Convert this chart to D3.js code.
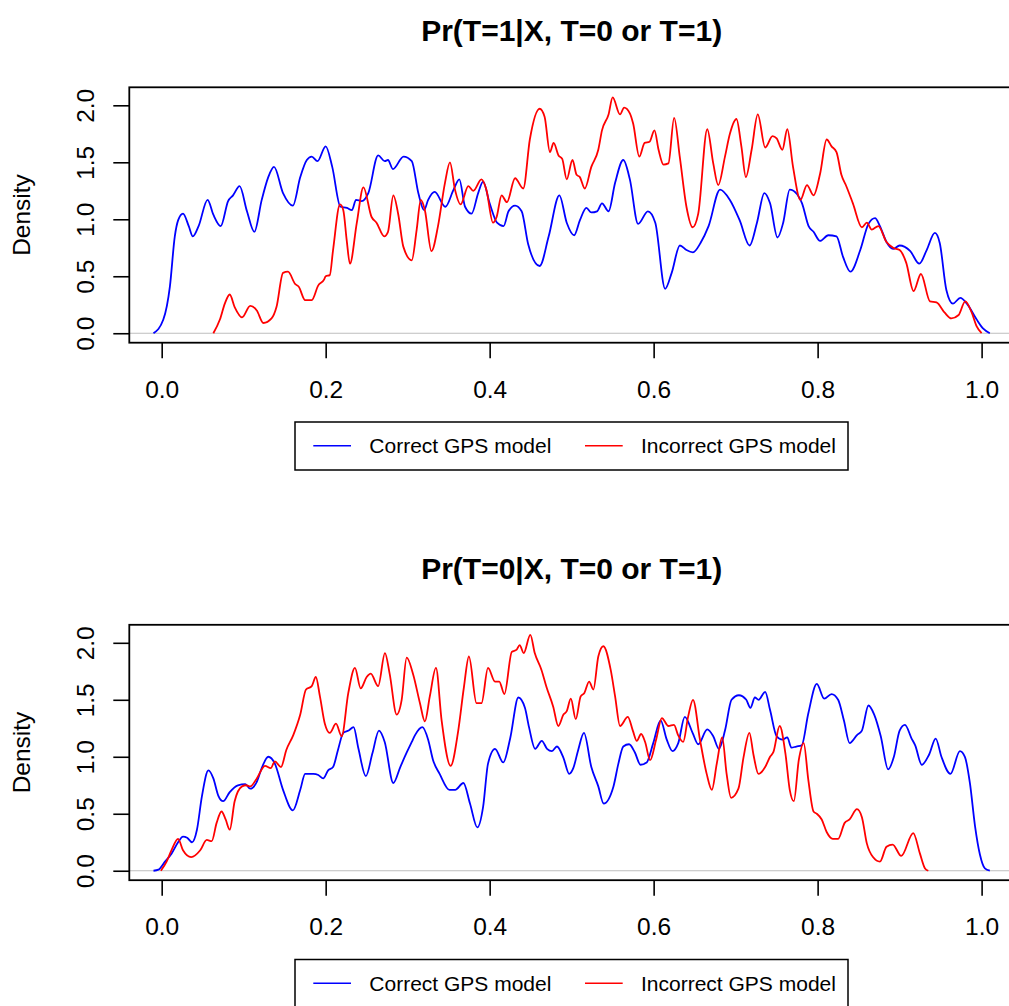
<!DOCTYPE html>
<html>
<head>
<meta charset="utf-8">
<script src="https://cdn.jsdelivr.net/npm/d3@7"></script>
<style>
  body { margin: 0; background: #fff; }
  svg { display: block; background: #fff; font-family: "Liberation Sans", Arial, sans-serif; }
</style>
</head>
<body>
<svg width="1009" height="1006"></svg>
<script>

// ticks, names, colours
let xTicks = [0, 0.2, 0.4, 0.6, 0.8, 1.0];
let yTicks = [0, 0.5, 1.0, 1.5, 2.0];
let seriesNames = ["Correct GPS model", "Incorrect GPS model"];
let seriesColors = ["#0000ff", "#ff0000"];
let panelTitles = ["Pr(T=1|X, T=0 or T=1)", "Pr(T=0|X, T=0 or T=1)"];

// density curves, [x, density]
let t1Correct = [[-0.010,0],[0.002,0.12],[0.010,0.41],[0.016,0.85],[0.020,0.99],[0.026,1.05],[0.033,0.94],[0.038,0.85],[0.045,0.94],[0.056,1.17],[0.063,1.04],[0.072,0.94],[0.081,1.16],[0.087,1.21],[0.095,1.29],[0.104,1.07],[0.113,0.89],[0.122,1.17],[0.130,1.37],[0.137,1.46],[0.148,1.23],[0.160,1.12],[0.169,1.37],[0.177,1.52],[0.183,1.55],[0.190,1.51],[0.200,1.64],[0.208,1.46],[0.218,1.11],[0.226,1.10],[0.232,1.08],[0.237,1.17],[0.244,1.16],[0.252,1.23],[0.264,1.56],[0.272,1.51],[0.276,1.52],[0.282,1.44],[0.295,1.55],[0.305,1.51],[0.313,1.23],[0.320,1.08],[0.325,1.17],[0.333,1.24],[0.346,1.11],[0.356,1.26],[0.363,1.35],[0.370,1.11],[0.378,1.05],[0.386,1.23],[0.392,1.33],[0.400,1.14],[0.409,0.97],[0.417,0.94],[0.423,1.07],[0.431,1.12],[0.439,1.07],[0.447,0.78],[0.461,0.59],[0.472,0.85],[0.485,1.21],[0.494,0.97],[0.503,0.86],[0.510,0.99],[0.518,1.10],[0.524,1.06],[0.531,1.07],[0.537,1.14],[0.545,1.07],[0.553,1.32],[0.563,1.52],[0.571,1.35],[0.581,0.96],[0.593,1.07],[0.602,0.97],[0.614,0.39],[0.622,0.53],[0.632,0.77],[0.640,0.73],[0.648,0.71],[0.657,0.79],[0.667,0.94],[0.681,1.26],[0.693,1.17],[0.705,0.99],[0.717,0.77],[0.726,0.97],[0.735,1.23],[0.742,1.14],[0.751,0.84],[0.758,0.97],[0.766,1.26],[0.775,1.22],[0.781,1.14],[0.789,0.94],[0.795,0.89],[0.803,0.81],[0.813,0.86],[0.823,0.85],[0.831,0.67],[0.840,0.54],[0.852,0.73],[0.862,0.96],[0.870,1.01],[0.876,0.94],[0.884,0.80],[0.892,0.74],[0.900,0.77],[0.913,0.72],[0.924,0.61],[0.933,0.73],[0.943,0.88],[0.949,0.79],[0.957,0.38],[0.965,0.26],[0.974,0.31],[0.982,0.26],[0.994,0.12],[1.002,0.04],[1.010,0]];

let t1Incorrect = [[0.063,0],[0.071,0.12],[0.077,0.26],[0.083,0.34],[0.089,0.23],[0.098,0.14],[0.108,0.24],[0.116,0.20],[0.124,0.09],[0.134,0.13],[0.140,0.23],[0.148,0.53],[0.154,0.54],[0.163,0.43],[0.167,0.41],[0.175,0.29],[0.183,0.29],[0.191,0.42],[0.198,0.47],[0.200,0.50],[0.205,0.51],[0.209,0.73],[0.2175,1.13],[0.2215,1.08],[0.2256,0.82],[0.2296,0.61],[0.238,0.97],[0.246,1.28],[0.256,1.02],[0.262,0.97],[0.2715,0.85],[0.276,0.89],[0.2825,1.21],[0.2886,1.04],[0.2947,0.76],[0.305,0.64],[0.311,0.91],[0.316,1.17],[0.321,1.08],[0.329,0.72],[0.337,0.94],[0.3455,1.32],[0.3516,1.50],[0.3577,1.26],[0.3646,1.13],[0.374,1.29],[0.380,1.25],[0.390,1.35],[0.396,1.26],[0.404,0.97],[0.4085,1.02],[0.4146,1.21],[0.421,1.15],[0.431,1.36],[0.441,1.27],[0.449,1.70],[0.461,1.97],[0.467,1.90],[0.4735,1.59],[0.478,1.67],[0.484,1.56],[0.4885,1.53],[0.494,1.35],[0.501,1.52],[0.506,1.39],[0.510,1.37],[0.516,1.27],[0.524,1.46],[0.5325,1.61],[0.537,1.78],[0.545,1.92],[0.550,2.07],[0.559,1.92],[0.564,1.98],[0.571,1.93],[0.575,1.84],[0.5825,1.55],[0.589,1.67],[0.595,1.68],[0.601,1.78],[0.606,1.61],[0.612,1.48],[0.618,1.49],[0.625,1.89],[0.632,1.54],[0.640,1.11],[0.6475,0.93],[0.6544,1.05],[0.6654,1.79],[0.6727,1.49],[0.6788,1.30],[0.687,1.55],[0.693,1.75],[0.701,1.88],[0.707,1.64],[0.7125,1.37],[0.7195,1.61],[0.727,1.92],[0.736,1.63],[0.745,1.73],[0.750,1.71],[0.757,1.61],[0.763,1.79],[0.770,1.46],[0.779,1.17],[0.787,1.30],[0.795,1.21],[0.803,1.40],[0.811,1.70],[0.817,1.64],[0.823,1.59],[0.829,1.39],[0.835,1.29],[0.843,1.14],[0.854,0.93],[0.860,0.97],[0.866,0.91],[0.874,0.94],[0.884,0.80],[0.892,0.75],[0.900,0.73],[0.908,0.62],[0.917,0.37],[0.926,0.52],[0.937,0.28],[0.945,0.27],[0.955,0.18],[0.963,0.13],[0.972,0.16],[0.980,0.28],[0.988,0.18],[0.994,0.06],[1.000,0]];

let t0Correct = [[-0.010,0],[-0.004,0.01],[0.004,0.08],[0.012,0.15],[0.020,0.25],[0.026,0.30],[0.031,0.29],[0.037,0.25],[0.043,0.36],[0.049,0.65],[0.057,0.88],[0.063,0.81],[0.069,0.66],[0.075,0.61],[0.083,0.69],[0.093,0.75],[0.102,0.76],[0.108,0.72],[0.116,0.78],[0.122,0.90],[0.130,1.00],[0.138,0.94],[0.148,0.71],[0.160,0.53],[0.169,0.71],[0.175,0.85],[0.185,0.85],[0.191,0.84],[0.197,0.81],[0.203,0.88],[0.209,0.91],[0.215,1.06],[0.2215,1.21],[0.228,1.23],[0.234,1.26],[0.240,1.07],[0.249,0.83],[0.257,1.03],[0.265,1.23],[0.272,1.13],[0.2825,0.77],[0.291,0.91],[0.299,1.04],[0.305,1.13],[0.309,1.19],[0.318,1.26],[0.325,1.15],[0.331,0.97],[0.339,0.85],[0.351,0.71],[0.358,0.71],[0.368,0.77],[0.376,0.59],[0.385,0.38],[0.392,0.56],[0.398,0.94],[0.4065,1.07],[0.4166,0.95],[0.425,1.16],[0.435,1.52],[0.443,1.43],[0.448,1.26],[0.4555,1.07],[0.4636,1.14],[0.470,1.07],[0.476,1.05],[0.482,1.09],[0.490,0.99],[0.497,0.85],[0.502,0.90],[0.508,1.06],[0.515,1.21],[0.524,0.91],[0.5325,0.74],[0.539,0.59],[0.551,0.74],[0.557,0.94],[0.563,1.09],[0.570,1.11],[0.577,1.04],[0.584,0.93],[0.5915,0.95],[0.5995,1.12],[0.6085,1.32],[0.616,1.15],[0.623,1.05],[0.630,1.12],[0.638,1.35],[0.6475,1.21],[0.6544,1.11],[0.6654,1.24],[0.6727,1.18],[0.6796,1.07],[0.687,1.23],[0.695,1.50],[0.704,1.54],[0.713,1.50],[0.718,1.43],[0.7235,1.52],[0.728,1.50],[0.736,1.57],[0.742,1.41],[0.750,1.18],[0.757,1.15],[0.763,1.17],[0.768,1.08],[0.774,1.09],[0.7805,1.10],[0.7886,1.38],[0.799,1.64],[0.808,1.51],[0.817,1.55],[0.825,1.50],[0.832,1.32],[0.839,1.12],[0.848,1.19],[0.854,1.23],[0.862,1.45],[0.869,1.37],[0.877,1.18],[0.886,0.89],[0.893,1.00],[0.900,1.23],[0.9065,1.28],[0.9146,1.16],[0.919,1.10],[0.927,0.93],[0.936,1.02],[0.944,1.16],[0.951,1.00],[0.962,0.85],[0.9735,1.05],[0.9796,1.00],[0.9857,0.77],[0.992,0.39],[0.998,0.14],[1.004,0.02],[1.010,0]];

let t0Incorrect = [[-0.001,0],[0.006,0.08],[0.012,0.18],[0.020,0.28],[0.026,0.18],[0.036,0.12],[0.047,0.18],[0.055,0.27],[0.061,0.26],[0.067,0.42],[0.073,0.52],[0.078,0.45],[0.083,0.36],[0.089,0.61],[0.098,0.74],[0.103,0.75],[0.108,0.74],[0.116,0.81],[0.126,0.92],[0.133,0.90],[0.138,0.96],[0.1455,0.91],[0.152,1.06],[0.1605,1.19],[0.169,1.37],[0.176,1.59],[0.183,1.62],[0.188,1.70],[0.193,1.53],[0.199,1.29],[0.205,1.21],[0.2126,1.29],[0.2195,1.18],[0.2276,1.56],[0.2357,1.78],[0.2427,1.60],[0.250,1.70],[0.255,1.73],[0.264,1.62],[0.2723,1.91],[0.278,1.73],[0.2866,1.37],[0.2927,1.50],[0.2988,1.87],[0.3068,1.72],[0.315,1.47],[0.321,1.31],[0.327,1.53],[0.3345,1.78],[0.3414,1.32],[0.3524,0.92],[0.3617,1.23],[0.3686,1.61],[0.3747,1.88],[0.384,1.47],[0.390,1.47],[0.398,1.78],[0.4065,1.66],[0.4117,1.66],[0.418,1.55],[0.427,1.92],[0.433,1.94],[0.4366,1.98],[0.4415,1.91],[0.4496,2.07],[0.455,1.91],[0.4633,1.76],[0.4694,1.61],[0.4775,1.44],[0.4837,1.27],[0.490,1.37],[0.494,1.40],[0.499,1.51],[0.505,1.33],[0.511,1.53],[0.5155,1.56],[0.5213,1.66],[0.5265,1.59],[0.5325,1.88],[0.5386,1.97],[0.5477,1.76],[0.553,1.53],[0.559,1.27],[0.5685,1.35],[0.5746,1.23],[0.5795,1.14],[0.5847,1.20],[0.5896,1.13],[0.5957,0.97],[0.603,1.15],[0.610,1.34],[0.618,1.27],[0.6248,1.28],[0.6298,1.19],[0.636,1.13],[0.642,1.35],[0.648,1.50],[0.6565,1.15],[0.6647,0.85],[0.671,0.71],[0.677,0.94],[0.6836,1.17],[0.689,0.85],[0.6944,0.64],[0.7034,0.72],[0.7095,0.99],[0.7168,1.21],[0.7217,1.02],[0.7278,0.85],[0.736,0.91],[0.742,1.00],[0.746,1.04],[0.7537,1.27],[0.7607,1.03],[0.766,0.71],[0.771,0.61],[0.777,0.97],[0.783,1.12],[0.7886,0.80],[0.795,0.52],[0.799,0.50],[0.805,0.45],[0.811,0.34],[0.8185,0.28],[0.825,0.28],[0.833,0.42],[0.839,0.45],[0.848,0.54],[0.854,0.47],[0.860,0.24],[0.8675,0.12],[0.876,0.08],[0.884,0.21],[0.8915,0.23],[0.902,0.13],[0.9166,0.33],[0.9248,0.15],[0.931,0.02],[0.935,0]];

let svg = d3.select("svg");

// plot region (R style: usr extends 4% past the data)
let left = 129.3, right = 1014, boxH = 255.4;
let x = d3.scaleLinear().domain([-0.0395, 1.0395]).range([left, right]);
let fmt = d3.format(".1f");

function drawPanel(top, title, curves) {
        let y = d3.scaleLinear().domain([-0.083, 2.158]).range([top + boxH, top]);
        let g = svg.append("g");

        g.append("text")
                .attr("x", (left + right) / 2)
                .attr("y", top - 46.3)
                .attr("text-anchor", "middle")
                .attr("font-size", 30)
                .attr("font-weight", "bold")
                .text(title);

        // zero line
        g.append("line")
                .attr("x1", left).attr("x2", right)
                .attr("y1", y(0)).attr("y2", y(0))
                .attr("stroke", "#bebebe")
                .attr("stroke-width", 1.2);

        let line = d3.line()
                .x(function (d) { return x(d[0]); })
                .y(function (d) { return y(d[1]); })
                .curve(d3.curveMonotoneX);

        curves.forEach(function (c, i) {
                g.append("path")
                        .attr("d", line(c))
                        .attr("fill", "none")
                        .attr("stroke", seriesColors[i])
                        .attr("stroke-width", 1.8);
        });

        g.append("rect")
                .attr("x", left).attr("y", top)
                .attr("width", right - left).attr("height", boxH)
                .attr("fill", "none")
                .attr("stroke", "#000")
                .attr("stroke-width", 1.8);

        // x axis
        let xa = g.append("g")
                .attr("transform", "translate(0," + (top + boxH) + ")")
                .call(d3.axisBottom(x).tickValues(xTicks).tickFormat(fmt).tickSize(15.6).tickSizeOuter(0))
                .attr("font-size", null).attr("font-family", null);
        xa.select(".domain").remove();
        xa.selectAll("line").attr("stroke", "#000").attr("stroke-width", 1.6);
        xa.selectAll("text")
                .attr("y", 55.3).attr("dy", null)
                .attr("fill", "#000")
                .attr("font-size", 24.5);

        // y axis
        let ya = g.append("g")
                .attr("transform", "translate(" + left + ",0)")
                .call(d3.axisLeft(y).tickValues(yTicks).tickFormat(fmt).tickSize(16).tickSizeOuter(0))
                .attr("font-size", null).attr("font-family", null);
        ya.select(".domain").remove();
        ya.selectAll("line").attr("stroke", "#000").attr("stroke-width", 1.6);
        ya.selectAll("text")
                .attr("x", null).attr("dy", null)
                .attr("transform", "translate(-35.8,0) rotate(-90)")
                .attr("text-anchor", "middle")
                .attr("fill", "#000")
                .attr("font-size", 24.5);

        g.append("text")
                .attr("transform", "translate(30," + (top + boxH / 2) + ") rotate(-90)")
                .attr("text-anchor", "middle")
                .attr("font-size", 24.5)
                .text("Density");

        // legend
        let lg = g.append("g").attr("transform", "translate(0," + top + ")");
        lg.append("rect")
                .attr("x", 295).attr("y", 334.7)
                .attr("width", 553).attr("height", 48)
                .attr("fill", "#fff")
                .attr("stroke", "#000")
                .attr("stroke-width", 1.5);
        let lineX = [313.3, 585];
        let textX = [369.3, 641];
        seriesNames.forEach(function (name, i) {
                lg.append("line")
                        .attr("x1", lineX[i]).attr("x2", lineX[i] + 37.7)
                        .attr("y1", 358.4).attr("y2", 358.4)
                        .attr("stroke", seriesColors[i])
                        .attr("stroke-width", 1.5);
                lg.append("text")
                        .attr("x", textX[i]).attr("y", 366)
                        .attr("font-size", 21)
                        .text(name);
        });
}

drawPanel(87.3, panelTitles[0], [t1Correct, t1Incorrect]);
drawPanel(87.3 + 537.5, panelTitles[1], [t0Correct, t0Incorrect]);

</script>
</body>
</html>
